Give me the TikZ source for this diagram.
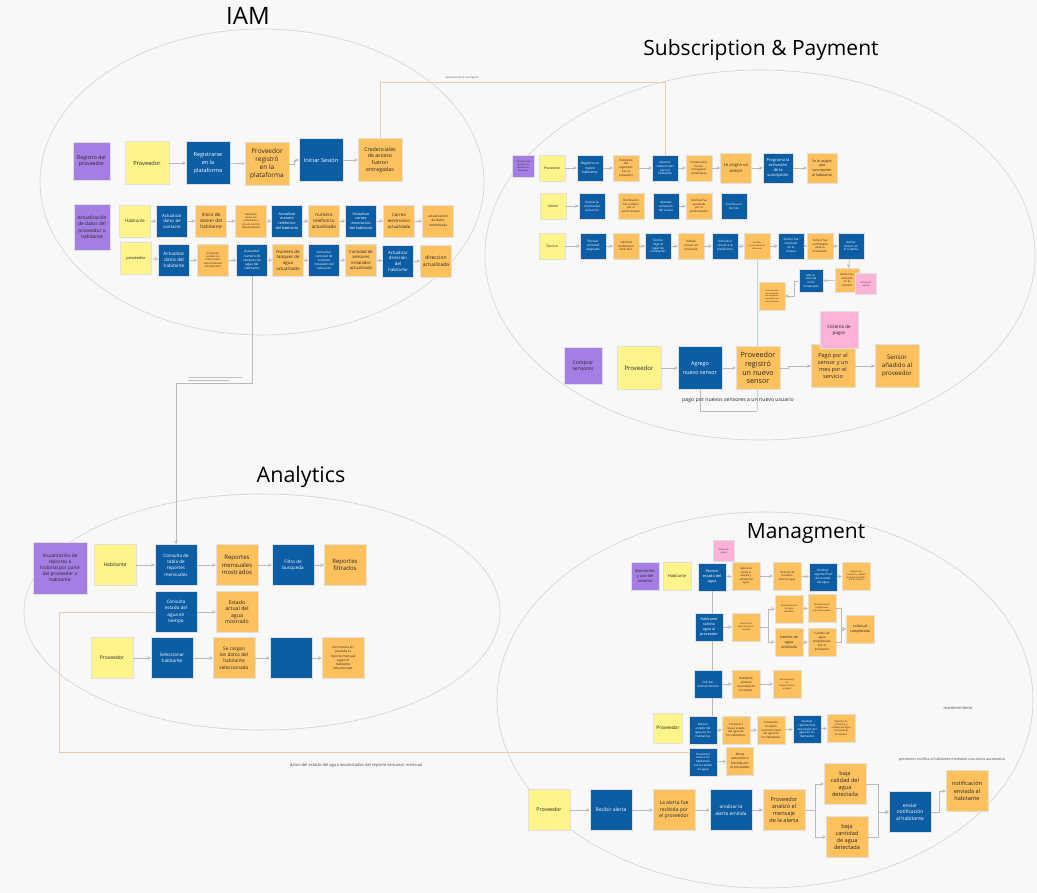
\documentclass[tikz,border=0pt]{standalone}
\usepackage{fontspec}
\setmainfont{Open Sans}
\usetikzlibrary{shapes.geometric, arrows}
\definecolor{stickyyellow}{HTML}{FFF48A}
\definecolor{stickypurple}{HTML}{A47EE2}
\definecolor{stickyblue}{HTML}{0C5DA4}
\definecolor{stickyorange}{HTML}{FFC15E}
\definecolor{stickypink}{HTML}{FDB3D8}
\definecolor{boardgray}{HTML}{F8F8F8}
\definecolor{tiepeach}{HTML}{EDC9A6}
\definecolor{tiegreen}{HTML}{B8DCC4}
\pgfdeclarelayer{board}
\pgfsetlayers{board,main}

\begin{document}
\begin{tikzpicture}[
x=1pt, y=-1pt,
>=stealth,
card/.style={
	rectangle,
	draw=black!12,
	line width=0.3pt,
	inner sep=0.5pt,
	align=center,
	text=black!85
},
who/.style={card, fill=stickyyellow},
trig/.style={card, fill=stickypurple},
act/.style={card, fill=stickyblue, text=white},
done/.style={card, fill=stickyorange},
ext/.style={card, fill=stickypink},
fs/.style 2 args={font=\fontsize{#1}{#2}\selectfont},
wh/.style 2 args={minimum width=#1, minimum height=#2},
lg/.style={wh={44pt}{43pt}, fs={6}{7.6}},
xl/.style={wh={42pt}{41pt}, fs={5.3}{6.8}},
md/.style={wh={31pt}{32pt}, fs={4.3}{5.5}},
sm/.style={wh={26pt}{26pt}, fs={3.4}{4.4}},
xs/.style={wh={28pt}{28pt}, fs={3.5}{4.5}},
tny/.style={fs={2.6}{3.4}},
link/.style={draw=gray!55, line width=0.6pt, ->},
tie/.style={draw=tiepeach, line width=0.8pt},
zone/.style={draw=gray!35, line width=0.6pt},
head/.style={font=\fontsize{21}{25}\selectfont, text=black},
note/.style={text=black!70}
]

\useasboundingbox (0,0) rectangle (1037,893);
\clip (0,0) rectangle (1037,893);
\begin{pgfonlayer}{board}
\fill [boardgray] (0,0) rectangle (1037,893);
\end{pgfonlayer}

% Zones
\draw [zone] (262,182) ellipse [x radius=222, y radius=153];
\draw [zone] (760,255) ellipse [x radius=275, y radius=185];
\draw [zone] (262,612) ellipse [x radius=238, y radius=118];
\draw [zone] (765,700) ellipse [x radius=268, y radius=188];

\node [head, font=\fontsize{24}{27}\selectfont] (tIAM) at (248,16) {IAM};
\node [head] (tSub) at (761,50) {Subscription \& Payment};
\node [head, font=\fontsize{21.5}{25}\selectfont] (tAna) at (301,477) {Analytics};
\node [head] (tMan) at (806,534) {Managment};

% IAM
\node [trig, wh={37pt}{38pt}, fs={5.2}{6.6}] (RegProv) at (91.5,161) {Registro del\\proveedor};
\node [who, lg, fs={5.7}{7}] (Prov) at (147,163) {Proveedor};
\node [act, lg, fs={5.5}{8}] (RegPlat) at (208,163) {Registrarse\\en la\\plataforma};
\node [done, lg, fs={6.5}{8}] (RegOk) at (267,164) {Proveedor\\registró\\en la\\plataforma};
\node [act, lg, fs={5.6}{7}] (Login) at (321,160) {Iniciar Sesión};
\node [done, lg, fs={5.3}{6.8}] (Cred) at (380,160) {Credenciales\\de acceso\\fueron\\entregadas};

\node [trig, wh={36pt}{46pt}, fs={4.8}{6.4}] (Upd) at (92,227) {Actualización\\de datos del\\proveedor o\\habitante};
\node [who, md] (Hab) at (135,221) {Habitante};
\node [act, md] (UpdCont) at (172,221) {Actualizar\\datos de\\contacto};
\node [done, md, fs={4.8}{6}] (LoginHab) at (211,221) {Inicio de\\sesion del\\habitante};
\node [done, md, tny] (RevInfo) at (251,221) {habitante\\revisa sus\\informacion\\y se encuentra\\desactualizada};
\node [act, md, fs={3.7}{4.8}] (UpdTel) at (287,221) {Actualizar\\numero\\telefonico\\del habitante};
\node [done, md, fs={4.6}{5.8}] (TelOk) at (324,221) {numero\\telefonico\\actualizado};
\node [act, md, fs={3.7}{4.8}] (UpdMail) at (361,221) {Actualizar\\correo\\electronico\\del habitante};
\node [done, md, fs={4.3}{5.6}] (MailOk) at (399,221) {Correo\\electronico\\actualizado};
\node [done, md, fs={3.3}{4.3}] (DataOk) at (438,221) {actualizacion\\de datos\\completada};

\node [who, md, fs={4}{5}] (ProvB) at (136,258) {proveedor};
\node [act, md, fs={4.6}{5.8}] (UpdHab) at (174,260) {Actualizar\\datos del\\habitante};
\node [done, md, tny] (AccInfo) at (213,260) {proveedor\\accede a la\\información\\desactualizada\\del habitante};
\node [act, md, fs={3.3}{4.2}] (UpdTank) at (252,260) {Actualizar\\numero de\\tanques de\\agua del\\habitante};
\node [done, md, fs={4.4}{5.6}] (TankOk) at (288,260) {Numero de\\tanques de\\agua\\actualizado};
\node [act, md, fs={3.1}{4}] (UpdSens) at (324,260) {Actualizar\\cantidad de\\sensores\\instalados del\\habitante};
\node [done, md, fs={4.2}{5.4}] (SensOk) at (361,260) {Cantidad de\\sensores\\instalados\\actualizado};
\node [act, md, fs={4.3}{5.6}] (UpdAddr) at (398,261) {Actualizar\\dirección\\del\\habitante};
\node [done, md, fs={5}{6.4}] (AddrOk) at (436,261) {direccion\\actualizada};

% Subscription & Payment
\node [trig, wh={22pt}{22pt}, fs={2.2}{2.9}] (ActHab) at (523,166) {Activación de\\acceso a la\\plataforma\\habitante};
\node [who, sm] (ProvS) at (552,168) {Proveedor};
\node [act, sm] (NewHab) at (590,168) {Registra un\\nuevo\\habitante};
\node [done, sm, fs={2.9}{3.8}] (HabOk) at (626,168) {Habitante\\fue\\registrado\\por el\\proveedor};
\node [act, sm, fs={3}{3.9}] (GenCred) at (665,168) {Generar\\credenciales\\para el\\habitante};
\node [done, sm, fs={2.8}{3.7}] (CredOk) at (699,168) {Credenciales\\fueron\\entregadas\\al habitante};
\node [done, wh={31pt}{30pt}, fs={4.2}{5.4}] (Assign) at (736,168) {Le asigna un\\sensor};
\node [act, wh={30pt}{30pt}, fs={4}{5.2}] (Prog) at (778,168) {Programa la\\activación\\de la\\suscripción};
\node [done, wh={30pt}{30pt}, fs={3.6}{4.8}] (SubsOk) at (822,168) {Se le asignó\\una\\suscripción\\al habitante};

\node [who, sm] (Admin) at (553,206) {Admin};
\node [act, sm, fs={3}{3.9}] (RevReq) at (592,206) {Revisar la\\solicitud de\\activación};
\node [done, sm, fs={2.8}{3.7}] (NotifOk) at (631,206) {Notificación\\fue recibida\\por el\\administrador};
\node [act, sm, fs={3}{3.9}] (Approve) at (666,206) {Aprobar\\activación\\del sensor};
\node [done, sm, fs={2.8}{3.7}] (ApprOk) at (699,206) {Solicitud fue\\aprobada\\por el\\administrador};
\node [act, sm, fs={3}{3.9}] (AskTec) at (734,206) {Solicita a un\\técnico};

\node [who, sm] (Tec) at (552,246) {Técnico};
\node [act, sm, fs={3.2}{4.1}] (RevAsg) at (593,246) {Revisar\\solicitud\\asignada};
\node [done, sm, fs={2.9}{3.8}] (AsgOk) at (626,246) {Solicitud\\recibida por\\el técnico};
\node [act, sm, fs={3}{3.9}] (Arrive) at (658,246) {Técnico\\llegó al\\lugar de\\instalación};
\node [done, sm, fs={3}{3.9}] (Install) at (691,246) {Instaló\\sensor en\\el tanque};
\node [act, sm, fs={3}{3.9}] (Bind) at (725,246) {Vincula el\\sensor a la\\plataforma};
\node [done, sm, fs={2.1}{2.8}] (Check) at (757,246) {Verificar\\funcionamiento\\del sensor};
\node [act, sm, fs={3}{3.9}] (InstOk) at (791,246) {Sensor fue\\instalado\\en el\\tanque};
\node [done, sm, fs={2.9}{3.8}] (ConfOk) at (820,246) {Sensor fue\\confirmado\\para la\\instalación};
\node [act, sm, fs={3}{3.9}] (Activ) at (851,246) {Activar\\sensor en\\el sistema};

\node [done, wh={24pt}{24pt}, fs={2.8}{3.7}] (ActOk) at (847,280) {Sensor fue\\activado\\en el\\sistema};
\node [ext, wh={21pt}{21pt}, fs={2.2}{2.9}] (Ping) at (866,284) {Activación\\exitosa};
\node [act, wh={24pt}{23pt}, fs={2.8}{3.7}] (Close) at (811,281) {Marcar\\solicitud\\como\\completada};
\node [done, wh={26pt}{28pt}, fs={2}{2.7}] (Notice) at (772,296) {Confirmación\\de instalación\\fue enviada al\\proveedor y al\\administrador};

\node [trig, wh={38pt}{37pt}, fs={5}{6.4}] (Buy) at (583,366) {Comprar\\sensores};
\node [who, lg, fs={6}{7.5}] (ProvC) at (639,368) {Proveedor};
\node [act, lg, fs={5.4}{8.5}] (AddSens) at (700,368) {Agrego\\nuevo sensor};
\node [done, lg, fs={7.2}{8.8}] (SensReg) at (758,368) {Proveedor\\registró\\un nuevo\\sensor};
\node [done, lg, fs={5.6}{7.2}] (Paid) at (833,366) {Pagó por el\\sensor y un\\mes por el\\servicio};
\node [ext, wh={38pt}{37pt}, fs={4.6}{6}] (PaySys) at (839,330) {Sistema de\\pagos};
\node [done, lg, fs={6.2}{7.8}] (SensAdd) at (897,366) {Sensor\\añadido al\\proveedor};

% Analytics
\node [trig, wh={54pt}{52pt}, fs={4.7}{6}] (Vis) at (60,568) {Visualización de\\reportes e\\historial por parte\\del proveedor o\\habitante};
\node [who, xl, fs={5}{6.4}] (HabA) at (115,565) {Habitante};
\node [act, xl, fs={4.6}{6.2}] (RepQ) at (176,565) {Consulta de\\tabla de\\reportes\\mensuales};
\node [done, xl, fs={6}{7.2}] (RepOk) at (237,565) {Reportes\\mensuales\\mostrados};
\node [act, xl, fs={4.6}{6.2}] (Filt) at (293,565) {Filtro de\\busqueda};
\node [done, xl, fs={6}{7.4}] (FiltOk) at (345,565) {Reportes\\filtrados};
\node [act, xl, fs={4.6}{6.4}] (WatQ) at (176,612) {Consulta\\estado del\\agua en\\tiempo};
\node [done, xl, fs={5.2}{6.6}] (WatOk) at (237,612) {Estado\\actual del\\agua\\mostrado};
\node [who, xl, fs={5}{6.4}] (ProvA) at (112,658) {Proveedor};
\node [act, xl, fs={4.6}{6.2}] (SelHab) at (172,658) {Seleccionar\\habitante};
\node [done, xl, fs={4.8}{6.2}] (Load) at (234,658) {Se cargan\\los datos del\\habitante\\seleccionado};
\node [act, xl] (Blank) at (291,658) {};
\node [done, xl, fs={3.2}{4.2}] (Show) at (343,658) {Se muestra en\\pantalla el\\reporte mensual\\según el\\habitante\\seleccionado};

% Managment
\node [ext, wh={21pt}{21pt}, fs={2.2}{2.9}] (DatS) at (724,551) {Datos del\\sensor};
\node [trig, xs, fs={4}{5.2}] (Mon) at (645,576) {Monitoreo\\y uso del\\sistema};
\node [who, xs, fs={4}{5.2}] (HabM) at (677,576) {Habitante};
\node [act, xs, fs={3.8}{5}] (RevW) at (712,577) {Revisar\\estado del\\agua};
\node [done, xs, fs={2.7}{3.6}] (RevWOk) at (746,576) {Habitante\\revisa el\\estado y\\calidad del\\agua};
\node [done, xs, fs={2.7}{3.6}] (Hist) at (787,576) {Historial de\\consumo\\total de agua};
\node [act, xs, fs={3.1}{4}] (Anal) at (823,577) {Analizar\\reporte final\\del estado\\del agua};
\node [done, xs, fs={2.2}{2.9}] (AnalOk) at (856,576) {Reporte de\\consumo y calidad\\del agua mostrado\\por el sistema};

\node [act, xs, fs={3.7}{4.8}] (AskW) at (709,627) {Habitante\\solicita\\agua al\\proveedor};
\node [done, xs, fs={2.2}{2.9}] (AskWOk) at (746,627) {solicitud de\\abastecimiento\\enviada};
\node [done, xs, fs={2.2}{2.9}] (Sup) at (789,609) {Abastecimiento\\de agua\\solicitado};
\node [done, xs, fs={3.6}{4.7}] (Chg) at (789,642) {Cambio de\\agua\\solicitado};
\node [done, xs, fs={2.2}{2.9}] (SupOk) at (822,608) {Abastecimiento\\programado\\por el proveedor};
\node [done, xs, fs={3}{4}] (ChgOk) at (822,642) {Cambio de\\agua\\programado\\por el\\proveedor};
\node [done, xs, fs={3.6}{4.8}] (Fin) at (860,629) {solicitud\\completada};

\node [act, xs, fs={3}{4}] (Mant) at (708,684) {Solicitar\\mantenimiento};
\node [done, xs, fs={3}{4}] (MantObs) at (746,684) {Habitante\\observa\\necesidad en\\los datos};
\node [done, xs, fs={2.2}{2.9}] (MantAl) at (787,684) {alerta manual\\de\\mantenimiento\\enviada};

\node [who, wh={29pt}{30pt}, fs={4.8}{6}] (ProvM) at (668,728) {Proveedor};
\node [act, xs, fs={3}{4}] (RevAll) at (703,730) {Revisar\\estado del\\agua de los\\habitantes};
\node [done, xs, fs={2.9}{3.8}] (RevAllOk) at (736,730) {Proveedor\\revisó estado\\del agua de\\los habitantes};
\node [done, xs, fs={2.9}{3.8}] (Cons) at (771,730) {Proveedor\\visualizó\\consumo total\\del agua de\\los habitantes};
\node [act, xs, fs={2.9}{3.8}] (Final) at (807,729) {Analizar\\reporte final\\del estado del\\agua de los\\habitantes};
\node [done, xs, fs={2.5}{3.3}] (FinalOk) at (841,728) {Reporte de\\consumo y\\calidad del agua\\mostrado al\\proveedor};
\node [act, xs, fs={2.9}{3.8}] (Warn) at (703,762) {Proveedor\\avisa a los\\habitantes\\sobre calidad\\de agua};
\node [done, wh={27pt}{28pt}, fs={3.3}{4.3}] (WarnOk) at (740,761) {alerta\\automática\\emitida por\\el proveedor};

\node [who, xl, fs={5.2}{6.6}] (ProvN) at (549,810) {Proveedor};
\node [act, xl, fs={5}{6.4}] (Recv) at (611,810) {Recibir alerta};
\node [done, xl, fs={5}{6.6}] (RecvOk) at (674,810) {La alerta fue\\recibida por\\el proveedor};
\node [act, xl, fs={4.8}{6.4}] (Eval) at (731,810) {analizar la\\alerta emitida};
\node [done, xl, fs={5.6}{7}] (EvalOk) at (784,810) {Proveedor\\analizó el\\mensaje\\de la alerta};
\node [done, xl, fs={5.6}{7}] (LowQ) at (845,784) {baja\\calidad del\\agua\\detectada};
\node [done, xl, fs={5.6}{7}] (LowV) at (847,837) {baja\\cantidad\\de agua\\detectada};
\node [act, xl, fs={5}{6.6}] (Send) at (910,812) {enviar\\notificación\\al habitante};
\node [done, xl, fs={5.6}{7.2}] (SendOk) at (967,791) {notificación\\enviada al\\habitante};

% Labels
\node [note, fs={2.6}{3.2}] (lblSub) at (462,78) {activación de la suscripción};
\node [note, fs={5.2}{6}, text=black!85] (lblPay) at (738,400) {pago por nuevos sensores a un nuevo usuario};
\node [note, fs={4.1}{5}] (lblDat) at (356,765) {datos del estado del agua recolectados del reporte semanal, mensual};
\node [note, fs={4}{5}] (lblMan) at (958,708) {mantenimiento};
\node [note, fs={3.6}{4.4}] (lblNot) at (952,760) {proveedor notifica al habitante mediante una alerta automatica};

% Links
\draw [tie] (Cred.north) -- (Cred.north |- 0,82) -| (GenCred.north);
\draw [tie] (WatQ.west) -| (59,752) -- (Warn.west |- 0,752);
\draw [link] (UpdTank.south) -- (UpdTank.south |- 0,383) -| (RepQ.north);
\draw [gray!50, line width=0.9pt] (188,377.5) -- (242,377.5);
\draw [gray!50, line width=0.6pt] (188,380.5) -- (229,380.5);

\draw [link] (Prov) -- (RegPlat);
\draw [link] (RegPlat) -- (RegOk);
\draw [link] (RegOk.east) -- ++(5,0) |- (Login.west);
\draw [link] (Login) -- (Cred);

\draw [link] (Hab) -- (UpdCont);
\draw [link] (UpdCont) -- (LoginHab);
\draw [link] (LoginHab) -- (RevInfo);
\draw [link] (RevInfo) -- (UpdTel);
\draw [link] (UpdTel) -- (TelOk);
\draw [link] (TelOk) -- (UpdMail);
\draw [link] (UpdMail) -- (MailOk);
\draw [link] (MailOk) -- (DataOk);

\draw [link] (ProvB) -- (UpdHab);
\draw [link] (UpdHab) -- (AccInfo);
\draw [link] (AccInfo) -- (UpdTank);
\draw [link] (UpdTank) -- (TankOk);
\draw [link] (TankOk) -- (UpdSens);
\draw [link] (UpdSens) -- (SensOk);
\draw [link] (SensOk) -- (UpdAddr);
\draw [link] (UpdAddr) -- (AddrOk);

\draw [link] (ProvS) -- (NewHab);
\draw [link] (NewHab) -- (HabOk);
\draw [link] (HabOk) -- (GenCred);
\draw [link] (GenCred) -- (CredOk);
\draw [link] (CredOk) -- (Assign);
\draw [link] (Assign) -- (Prog);
\draw [link] (Prog) -- (SubsOk);

\draw [link] (Admin) -- (RevReq);
\draw [link] (Approve) -- (ApprOk);

\draw [link] (Tec) -- (RevAsg);
\draw [link] (RevAsg) -- (AsgOk);
\draw [link] (AsgOk) -- (Arrive);
\draw [link] (Arrive) -- (Install);
\draw [link] (Install) -- (Bind);
\draw [link] (Bind) -- (Check);
\draw [link] (Check) -- (InstOk);
\draw [link] (InstOk) -- (ConfOk);
\draw [link] (ConfOk) -- (Activ);
\draw [link] (Activ) -- (ActOk);
\draw [link] (ActOk) -- (Close);
\draw [link] (Close.west) -- ++(-5,0) |- (Notice.east);

\draw [link] (ProvC) -- (AddSens);
\draw [link] (AddSens) -- (SensReg);
\draw [link] (SensReg.east) -- ++(8,0) |- (Paid.west);
\draw [link] (Paid) -- (SensAdd);
\begin{pgfonlayer}{board}
\draw [link, -] (AddSens.south) |- (Check.south |- 0,411);
\draw [tiegreen, line width=0.7pt] (Check.south) -- (Check.south |- 0,411);
\end{pgfonlayer}

\draw [link] (HabA) -- (RepQ);
\draw [link] (RepQ) -- (RepOk);
\draw [link] (RepOk) -- (Filt);
\draw [link] (Filt) -- (FiltOk);
\draw [link] (WatQ) -- (WatOk);
\draw [link] (ProvA) -- (SelHab);
\draw [link] (SelHab) -- (Load);
\draw [link] (Load) -- (Blank);
\draw [link] (Blank) -- (Show);

\draw [link] (RevW) -- (RevWOk);
\draw [link] (RevWOk) -- (Hist);
\draw [link] (Hist) -- (Anal);
\draw [link] (Anal) -- (AnalOk);
\draw [link, -] (RevW.south) -- (RevW.south |- AskW.north);
\draw [link, -] (RevW.south |- AskW.south) -- (RevW.south |- Mant.north);
\draw [link, -] (RevW.south |- Mant.south) -- (RevW.south |- RevAll.north);
\draw [link] (AskW) -- (AskWOk);
\draw [link] (AskWOk.east) -- ++(8,0) |- (Sup.west);
\draw [link] (AskWOk.east) -- ++(8,0) |- (Chg.west);
\draw [link] (Sup) -- (SupOk);
\draw [link] (Chg) -- (ChgOk);
\draw [link] (SupOk.east) -- ++(5,0) |- (Fin.west);
\draw [link] (ChgOk.east) -- ++(5,0) |- (Fin.west);
\draw [link] (Mant) -- (MantObs);
\draw [link] (MantObs) -- (MantAl);
\draw [link] (RevAll) -- (RevAllOk);
\draw [link] (RevAllOk) -- (Cons);
\draw [link] (Cons) -- (Final);
\draw [link] (Final) -- (FinalOk);
\draw [link] (Warn) -- (WarnOk);

\draw [link] (ProvN) -- (Recv);
\draw [link] (Recv) -- (RecvOk);
\draw [link] (RecvOk) -- (Eval);
\draw [link] (Eval) -- (EvalOk);
\draw [link] (EvalOk.east) -- ++(10,0) |- (LowQ.west);
\draw [link] (EvalOk.east) -- ++(10,0) |- (LowV.west);
\draw [link] (LowQ.east) -- ++(12,0) |- (Send.west);
\draw [link] (LowV.east) -- ++(10,0) |- (Send.west);
\draw [link] (Send.east) -- ++(8,0) |- (SendOk.west);

\end{tikzpicture}
\end{document}
